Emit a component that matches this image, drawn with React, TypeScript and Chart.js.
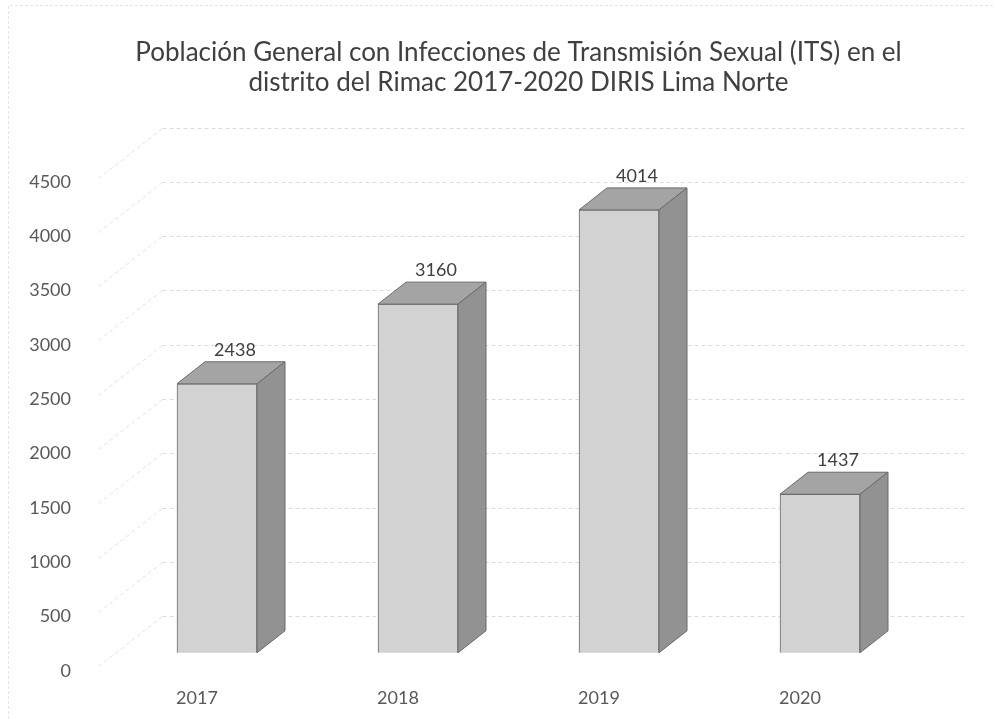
import React, { useEffect, useRef } from "react";
import { Chart, registerables } from "chart.js";

Chart.register(...registerables);

const categories = ["2017", "2018", "2019", "2020"];
const values = [2438, 3160, 4014, 1437];
const axisTicks = [0, 500, 1000, 1500, 2000, 2500, 3000, 3500, 4000, 4500, 5000];
const hiddenTickLabels = [5000];
const titleLines = [
  "Población General con Infecciones de Transmisión Sexual (ITS) en el",
  "distrito del Rimac 2017-2020 DIRIS Lima Norte",
];

const FONT = "Lato, 'Open Sans', sans-serif";
const DEPTH_X = 28;
const DEPTH_Y = 22;

const wallPlugin = {
  id: "wall",
  beforeDatasetsDraw(chart: any) {
    const { ctx, chartArea } = chart;
    const yL = chart.scales.yLabels;
    const backLeft = chartArea.left + 46;
    const frontLeft = chartArea.left - 18;
    ctx.save();
    // faint page border
    ctx.strokeStyle = "#e6e6e6";
    ctx.lineWidth = 1;
    ctx.setLineDash([3, 2]);
    ctx.beginPath();
    ctx.moveTo(8.5, 719);
    ctx.lineTo(8.5, 5.5);
    ctx.lineTo(995, 5.5);
    ctx.stroke();
    ctx.setLineDash([4, 3]);
    axisTicks.forEach((v) => {
      if (v === 0) return;
      const y = Math.round(yL.getPixelForValue(v)) + 0.5;
      ctx.strokeStyle = "#e2e2e2";
      ctx.beginPath();
      ctx.moveTo(frontLeft, y + 50);
      ctx.lineTo(backLeft, y);
      ctx.stroke();
      ctx.strokeStyle = "#dcdcdc";
      ctx.beginPath();
      ctx.moveTo(backLeft, y);
      ctx.lineTo(chartArea.right + 44, y);
      ctx.stroke();
    });
    ctx.restore();
  },
};

const box3dPlugin = {
  id: "box3d",
  afterDatasetsDraw(chart: any) {
    const { ctx } = chart;
    const meta = chart.getDatasetMeta(0);
    ctx.save();
    ctx.lineWidth = 1;
    ctx.strokeStyle = "#6a6a6a";
    ctx.lineJoin = "round";
    meta.data.forEach((bar: any, i: number) => {
      const { x, y, base, width } = bar.getProps(["x", "y", "base", "width"], true);
      const l = x - width / 2;
      const r = x + width / 2;
      // top face
      ctx.fillStyle = "#a4a4a4";
      ctx.beginPath();
      ctx.moveTo(l, y);
      ctx.lineTo(l + DEPTH_X, y - DEPTH_Y);
      ctx.lineTo(r + DEPTH_X, y - DEPTH_Y);
      ctx.lineTo(r, y);
      ctx.closePath();
      ctx.fill();
      ctx.stroke();
      // side face
      ctx.fillStyle = "#929292";
      ctx.beginPath();
      ctx.moveTo(r, y);
      ctx.lineTo(r + DEPTH_X, y - DEPTH_Y);
      ctx.lineTo(r + DEPTH_X, base - DEPTH_Y);
      ctx.lineTo(r, base);
      ctx.closePath();
      ctx.fill();
      ctx.stroke();
      // value label
      ctx.fillStyle = "#404040";
      ctx.font = `18px ${FONT}`;
      ctx.textAlign = "center";
      ctx.textBaseline = "middle";
      ctx.fillText(String(values[i]), x + DEPTH_X / 2 + 4, y - DEPTH_Y - 12);
    });
    ctx.restore();
  },
};

export default function App() {
  const ref = useRef<HTMLCanvasElement>(null);
  useEffect(() => {
    if (!ref.current) return;
    const chart = new Chart(ref.current, {
      type: "bar",
      data: {
        labels: categories,
        datasets: [
          {
            data: values,
            backgroundColor: "#d2d2d2",
            borderColor: "#6a6a6a",
            borderWidth: 1,
            barThickness: 80,
            yAxisID: "y",
            xAxisID: "x",
          },
        ],
      },
      options: {
        responsive: false,
        animation: false,
        layout: { padding: { left: 0, right: 74.5, top: 0, bottom: 0 } },
        plugins: {
          legend: { display: false },
          tooltip: { enabled: false },
          title: {
            display: true,
            fullSize: false,
            text: titleLines,
            color: "#404040",
            font: { family: FONT, size: 26, weight: "normal", lineHeight: 1.15 },
            padding: { top: 38, bottom: 29.7 },
          },
        },
        scales: {
          x: {
            type: "category",
            grid: { display: false },
            border: { display: false },
            ticks: {
              color: "#595959",
              font: { family: FONT, size: 18 },
              padding: 9,
              labelOffset: -20,
            },
            afterFit(scale: any) {
              scale.height = 46;
            },
          },
          y: {
            type: "linear",
            display: false,
            min: -162.5,
            max: 4761,
          },
          yLabels: {
            type: "linear",
            position: "left",
            min: 0,
            max: 5000,
            grid: { display: false },
            border: { display: false },
            ticks: {
              stepSize: 500,
              color: "#595959",
              font: { family: FONT, size: 18 },
              padding: 37.5,
              callback: (v: any) => (hiddenTickLabels.includes(Number(v)) ? "" : String(v)),
            },
            afterFit(scale: any) {
              scale.width = 116.5;
            },
          },
        },
      },
      plugins: [wallPlugin, box3dPlugin],
    });
    return () => chart.destroy();
  }, []);
  return (
    <div style={{ position: "absolute", left: 0, top: 0, width: 995, height: 719, background: "#fff" }}>
      <canvas ref={ref} width={995} height={719} />
    </div>
  );
}
